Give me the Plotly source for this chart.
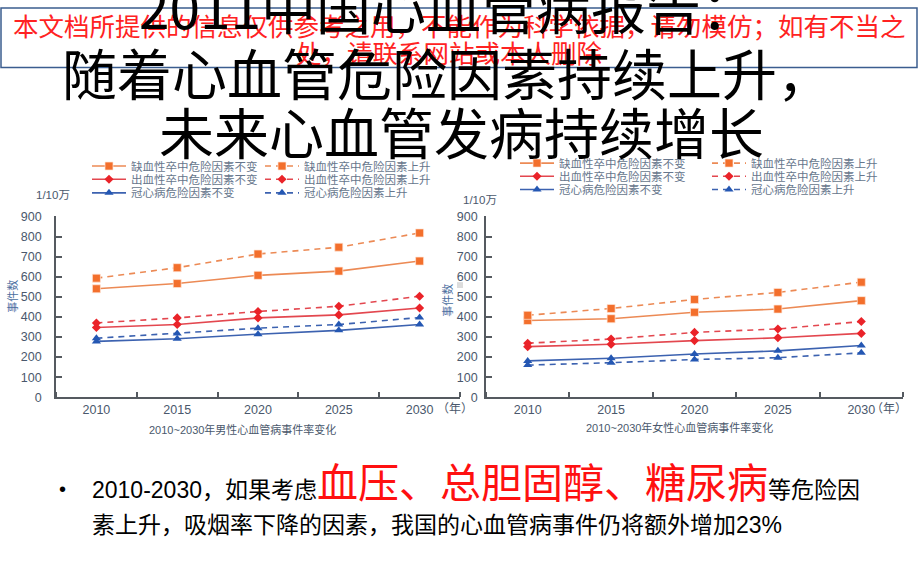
import plotly.graph_objects as go

W, H = 920, 575

years = [2010, 2015, 2020, 2025, 2030]

# 男性 (left chart), 1/10万
male_isch_const = [540, 566, 607, 628, 678]
male_isch_rise = [593, 645, 713, 747, 818]
male_hem_const = [347, 362, 395, 410, 444]
male_hem_rise = [370, 395, 427, 453, 503]
male_chd_const = [278, 291, 314, 333, 362]
male_chd_rise = [294, 318, 344, 362, 397]

# 女性 (right chart)
female_isch_const = [382, 391, 423, 439, 481]
female_isch_rise = [408, 442, 487, 522, 573]
female_hem_const = [252, 264, 282, 296, 318]
female_hem_rise = [269, 290, 323, 340, 377]
female_chd_const = [181, 194, 215, 231, 258]
female_chd_rise = [160, 172, 188, 197, 221]

series_names = [
    "缺血性卒中危险因素不变", "缺血性卒中危险因素上升",
    "出血性卒中危险因素不变", "出血性卒中危险因素上升",
    "冠心病危险因素不变", "冠心病危险因素上升",
]

y_ticks = [0, 100, 200, 300, 400, 500, 600, 700, 800, 900]

x_title_left = "2010~2030年男性心血管病事件率变化"
x_title_right = "2010~2030年女性心血管病事件率变化"

title_lines = ["2011中国心血管病报告：", "随着心血管危险因素持续上升，", "未来心血管发病持续增长"]
watermark_lines = ["本文档所提供的信息仅供参考之用，不能作为科学依据，请勿模仿；如有不当之",
                   "处，请联系网站或本人删除"]
bullet_a = "2010-2030，如果考虑"
bullet_red = "血压、总胆固醇、糖尿病"
bullet_b = "等危险因"
bullet_line2 = "素上升，吸烟率下降的因素，我国的心血管病事件仍将额外增加23%"

ORANGE_M, ORANGE_L = "#f36f2c", "#ec8a55"
RED_M, RED_L = "#ea2329", "#e3474f"
BLUE_M, BLUE_L = "#2457b3", "#3c62b0"
TXT = "#4a586c"
NUMFONT = "Liberation Sans, Arial, Noto Sans CJK SC"
CJK = "Noto Sans CJK SC"

styles = [
    dict(color=ORANGE_L, m=ORANGE_M, sym="square", size=8, dash="solid"),
    dict(color=ORANGE_L, m=ORANGE_M, sym="square", size=8, dash="6px,5px"),
    dict(color=RED_L, m=RED_M, sym="diamond", size=7, dash="solid"),
    dict(color=RED_L, m=RED_M, sym="diamond", size=7, dash="6px,5px"),
    dict(color=BLUE_L, m=BLUE_M, sym="triangle-up", size=8, dash="solid"),
    dict(color=BLUE_L, m=BLUE_M, sym="triangle-up", size=8, dash="6px,5px"),
]

male = [male_isch_const, male_isch_rise, male_hem_const, male_hem_rise, male_chd_const, male_chd_rise]
female = [female_isch_const, female_isch_rise, female_hem_const, female_hem_rise, female_chd_const, female_chd_rise]

fig = go.Figure()

def px(x):
    return x / W

def py(y):
    return 1 - y / H

left_cols = [87, 260]
left_rows = [163, 176.5, 190.5]
right_cols = [515, 707]
right_rows = [160, 173.5, 187]

legends = {}
li = 0
for chart, data, xa, ya, cols, rows in [
    ("m", male, "x", "y", left_cols, left_rows),
    ("f", female, "x2", "y2", right_cols, right_rows),
]:
    for i, vals in enumerate(data):
        st = styles[i]
        li += 1
        lname = "legend" if li == 1 else f"legend{li}"
        fig.add_trace(go.Scatter(
            x=years, y=vals, name=series_names[i], mode="lines+markers",
            xaxis=xa, yaxis=ya, legend=lname,
            line=dict(color=st["color"], width=1.6, dash=st["dash"]),
            marker=dict(symbol=st["sym"], size=st["size"], color=st["m"],
                        line=dict(color="rgba(255,230,215,0.7)" if i < 2 else st["m"], width=1 if i < 2 else 0)),
            showlegend=True,
        ))
        col = i % 2
        row = i // 2
        legends[lname] = dict(
            x=px(cols[col]), y=py(rows[row]), xanchor="left", yanchor="middle",
            bgcolor="rgba(0,0,0,0)", borderwidth=0,
            font=dict(family=CJK, size=11.5, color="#66768c"),
            itemwidth=34, tracegroupgap=0,
        )

axis_common = dict(
    showgrid=False, zeroline=False, showline=True, linecolor="#555a60", linewidth=1.6,
    mirror=False, fixedrange=True,
)

fig.update_layout(
    width=W, height=H, margin=dict(l=0, r=0, t=0, b=0),
    paper_bgcolor="white", plot_bgcolor="white",
    xaxis=dict(domain=[px(56), px(460)], range=[2007.5, 2032.5], tickvals=years,
               ticks="", tickfont=dict(family=NUMFONT, size=12.5, color=TXT),
               minor=dict(ticks="inside", tick0=2012.5, dtick=5, ticklen=5, tickcolor="#555a60", tickwidth=1.5),
               anchor="y", **axis_common),
    yaxis=dict(domain=[py(400), py(214.7)], range=[0, 900], tickvals=y_ticks,
               ticks="inside", ticklen=6, tickcolor="#555a60", tickwidth=1.5,
               tickfont=dict(family=NUMFONT, size=12.5, color=TXT), ticklabelstandoff=10,
               anchor="x", **axis_common),
    xaxis2=dict(domain=[px(486), px(903)], range=[2007.5, 2032.5], tickvals=years,
                ticks="", tickfont=dict(family=NUMFONT, size=12.5, color=TXT),
                minor=dict(ticks="inside", tick0=2012.5, dtick=5, ticklen=5, tickcolor="#555a60", tickwidth=1.5),
                anchor="y2", **axis_common),
    yaxis2=dict(domain=[py(400), py(214.7)], range=[0, 900], tickvals=y_ticks,
                ticks="inside", ticklen=6, tickcolor="#555a60", tickwidth=1.5,
                tickfont=dict(family=NUMFONT, size=12.5, color=TXT), ticklabelstandoff=4,
                anchor="x2", **axis_common),
    **legends,
)

ann = []

def add_text(text, x, y, size, color="black", family=CJK, xanchor="center", angle=0):
    ann.append(dict(text=text, x=px(x), y=py(y), xref="paper", yref="paper",
                    xanchor=xanchor, yanchor="middle", showarrow=False, textangle=angle,
                    font=dict(family=family, size=size, color=color)))

# chart texts
add_text("1/10万", 53, 193, 11.5, TXT, NUMFONT)
add_text("1/10万", 480, 198, 11.5, TXT, NUMFONT)
add_text("事件数", 12, 297, 11, "#4a6e9e", CJK, angle=-90)
add_text("事件数", 447, 301, 11, "#4a6e9e", CJK, angle=-90)
add_text(x_title_left, 243, 433, 11, TXT, NUMFONT)
add_text(x_title_right, 679, 431, 11, TXT, NUMFONT)
add_text("（年）", 455, 411, 12, TXT, CJK)
add_text("（年）", 889, 410, 12, TXT, CJK)

# watermark
add_text(watermark_lines[0], 459.5, 18, 25.5, "#ff2222", CJK)
add_text(watermark_lines[1], 449, 46, 25.5, "#ff2222", CJK)

# titles (over the watermark)
add_text(title_lines[0], 447, -2, 55, "black", CJK)
add_text(title_lines[1], 447, 66, 55, "black", CJK)
add_text(title_lines[2], 461, 126, 55, "black", CJK)

# bullet text
add_text("•", 63, 494, 20, "black", NUMFONT)
ann.append(dict(
    text=(f'{bullet_a}<span style="font-size:41px;color:#ff1010">{bullet_red}</span>{bullet_b}'),
    x=px(90), y=py(515), xref="paper", yref="paper", xanchor="left", yanchor="bottom",
    showarrow=False, font=dict(family=NUMFONT, size=23, color="black"),
))
add_text(bullet_line2, 90, 531, 23, "black", NUMFONT, xanchor="left")

fig.update_layout(annotations=ann)

fig.add_shape(type="rect", xref="paper", yref="paper", x0=px(1), x1=px(917), y0=py(1), y1=py(62),
              line=dict(color="#3b5d8f", width=1.5), fillcolor="rgba(0,0,0,0)", layer="above")
fig.add_shape(type="rect", xref="paper", yref="paper", x0=px(457), x1=px(463), y0=py(282), y1=py(288),
              line=dict(width=0), fillcolor="#dcdcdc", layer="below")

fig.write_html("out.html")
